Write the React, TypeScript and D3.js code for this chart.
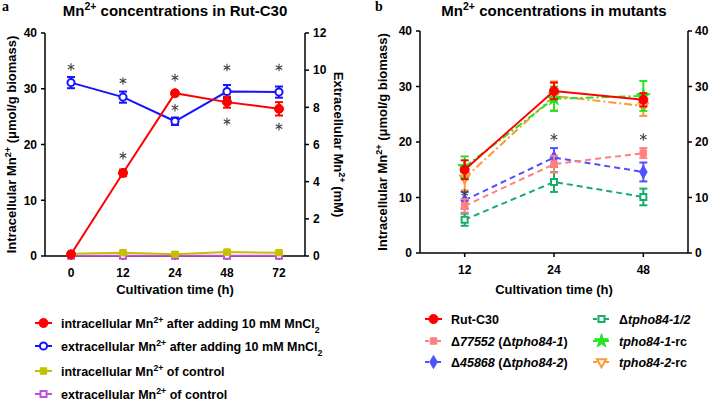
import React from "react";
import * as d3 from "d3";

// ---------- Panel a data ----------
const timesA = ["0", "12", "24", "48", "72"];
const intraAdded = [0.3, 14.9, 29.2, 27.6, 26.4];
const intraAddedErr = [0.3, 0.6, 0.4, 1.0, 1.2];
const extraAdded = [9.33, 8.55, 7.25, 8.85, 8.82]; // mM, right axis
const extraAddedErr = [0.3, 0.3, 0.2, 0.35, 0.3];
const intraCtrl = [0.4, 0.6, 0.3, 0.7, 0.6];
const intraCtrlErr = [0.1, 0.1, 0.1, 0.1, 0.1];
const extraCtrl = [0.02, 0.02, 0.02, 0.02, 0.02]; // mM
const extraCtrlErr = [0.03, 0.03, 0.03, 0.03, 0.03];
const starsATime = ["0", "12", "12", "24", "24", "48", "48", "72", "72"];
const starsAValue = [33.9, 31.4, 18.0, 32.0, 26.6, 33.8, 24.1, 33.8, 23.2];
const leftTicksA = [0, 10, 20, 30, 40];
const rightTicksA = [0, 2, 4, 6, 8, 10, 12];

// ---------- Panel b data ----------
const timesB = ["12", "24", "48"];
const rut = [15.0, 29.2, 27.6];
const rutErr = [1.7, 1.5, 1.2];
const d77552 = [8.5, 16.0, 18.0];
const d77552Err = [1.2, 1.5, 0.9];
const d45868 = [9.5, 17.2, 14.6];
const d45868Err = [1.5, 1.7, 1.7];
const dBoth = [6.0, 12.8, 10.1];
const dBothErr = [1.1, 1.8, 1.5];
const rc1 = [15.5, 27.8, 28.3];
const rc1Err = [1.9, 2.2, 2.7];
const rc2 = [13.5, 28.3, 26.5];
const rc2Err = [2.2, 2.6, 1.8];
const starsBTime = ["12", "24", "48"];
const starsBValue = [10.8, 20.9, 20.9];
const ticksB = [0, 10, 20, 30, 40];

const FONT = "'Liberation Sans', Arial, sans-serif";

type MarkerKind = "circle" | "circleOpen" | "square" | "squareOpen" | "diamond" | "star" | "triDownOpen";

function Marker({ kind, x, y, color }: { kind: MarkerKind; x: number; y: number; color: string }) {
  const map: Record<MarkerKind, [any, number, boolean]> = {
    circle: [d3.symbolCircle, 64, true],
    circleOpen: [d3.symbolCircle, 40, false],
    square: [d3.symbolSquare, 42, true],
    squareOpen: [d3.symbolSquare, 36, false],
    diamond: [d3.symbolDiamond, 50, true],
    star: [d3.symbolStar, 60, true],
    triDownOpen: [d3.symbolTriangle, 36, false],
  };
  const [type, size, filled] = map[kind];
  const p = d3.symbol().type(type).size(size)() as string;
  const rot = kind === "triDownOpen" ? " rotate(180)" : "";
  return (
    <path
      d={p}
      transform={`translate(${x},${y})${rot}`}
      fill={filled ? color : "white"}
      stroke={color}
      strokeWidth={filled ? 1 : 2}
    />
  );
}

function Star({ x, y }: { x: number; y: number }) {
  const p = d3.symbol().type(d3.symbolAsterisk).size(40)() as string;
  return <path d={p} transform={`translate(${x},${y})`} fill="none" stroke="#444" strokeWidth={1.1} />;
}

function Series({
  cats, vals, errs, x, y, color, dash, marker, width = 2,
}: {
  cats: string[]; vals: number[]; errs: number[]; x: d3.ScalePoint<string>; y: d3.ScaleLinear<number, number>;
  color: string; dash?: string; marker: MarkerKind; width?: number;
}) {
  const line = d3.line<number>().x((_, i) => x(cats[i])!).y((v) => y(v));
  return (
    <g>
      <path d={line(vals) as string} fill="none" stroke={color} strokeWidth={width} strokeDasharray={dash} />
      {vals.map((v, i) => {
        const cx = x(cats[i])!;
        const y1 = y(v + errs[i]);
        const y2 = y(v - errs[i]);
        return (
          <g key={i}>
            <line x1={cx} x2={cx} y1={y1} y2={y2} stroke={color} strokeWidth={2} />
            <line x1={cx - 4} x2={cx + 4} y1={y1} y2={y1} stroke={color} strokeWidth={2} />
            <line x1={cx - 4} x2={cx + 4} y1={y2} y2={y2} stroke={color} strokeWidth={2} />
            <Marker kind={marker} x={cx} y={y(v)} color={color} />
          </g>
        );
      })}
    </g>
  );
}

function Mn() {
  return (
    <>
      Mn<tspan baselineShift="super" fontSize="0.7em">2+</tspan>
    </>
  );
}

function Sub2() {
  return <tspan baselineShift="sub" fontSize="0.7em">2</tspan>;
}

function LegendItem({ x, y, color, marker, dash, children }: any) {
  return (
    <g>
      <line x1={x} x2={x + 17} y1={y} y2={y} stroke={color} strokeWidth={2} strokeDasharray={dash} />
      <Marker kind={marker} x={x + 8.5} y={y} color={color} />
      <text x={x + 26} y={y + 4.5} fontSize={12.5} fontWeight="bold" fontFamily={FONT}>
        {children}
      </text>
    </g>
  );
}

export default function App() {
  // Panel a scales
  const aL = 45, aR = 305, aT = 33, aB = 256;
  const xA = d3.scalePoint<string>().domain(timesA).range([aL, aR]).padding(0.5);
  const yA = d3.scaleLinear().domain([0, 40]).range([aB, aT]);
  const yA2 = d3.scaleLinear().domain([0, 12]).range([aB, aT]);

  // Panel b scales
  const bL = 420, bR = 688, bT = 31, bB = 253;
  const xB = d3.scalePoint<string>().domain(timesB).range([bL, bR]).padding(0.5);
  const yB = d3.scaleLinear().domain([0, 40]).range([bB, bT]);

  const tickFont = { fontSize: 12, fontWeight: "bold" as const, fontFamily: FONT };

  return (
    <svg width={709} height={400} style={{ position: "absolute", left: 0, top: 0, background: "white" }}>
      <rect width={709} height={400} fill="white" />
      {/* ===== Panel a ===== */}
      <text x={2} y={11} fontFamily="'Liberation Serif', serif" fontWeight="bold" fontSize={14}>a</text>
      <text x={(aL + aR) / 2} y={16} textAnchor="middle" fontFamily={FONT} fontWeight="bold" fontSize={15}>
        <Mn /> concentrations in Rut-C30
      </text>
      {/* axes */}
      <line x1={aL} x2={aL} y1={aT} y2={aB} stroke="black" strokeWidth={1.5} />
      <line x1={aR} x2={aR} y1={aT} y2={aB} stroke="black" strokeWidth={1.5} />
      <line x1={aL} x2={aR} y1={aB} y2={aB} stroke="black" strokeWidth={1.5} />
      {leftTicksA.map((t) => (
        <g key={t}>
          <line x1={aL - 4} x2={aL} y1={yA(t)} y2={yA(t)} stroke="black" strokeWidth={1.5} />
          <text x={aL - 8} y={yA(t) + 4.3} textAnchor="end" {...tickFont}>{t}</text>
        </g>
      ))}
      {rightTicksA.map((t) => (
        <g key={t}>
          <line x1={aR} x2={aR + 4} y1={yA2(t)} y2={yA2(t)} stroke="black" strokeWidth={1.5} />
          <text x={aR + 8} y={yA2(t) + 4.3} textAnchor="start" {...tickFont}>{t}</text>
        </g>
      ))}
      {timesA.map((t) => (
        <g key={t}>
          <line x1={xA(t)!} x2={xA(t)!} y1={aB} y2={aB + 4} stroke="black" strokeWidth={1.5} />
          <text x={xA(t)!} y={aB + 21} textAnchor="middle" {...tickFont}>{t}</text>
        </g>
      ))}
      <text x={(aL + aR) / 2} y={aB + 38} textAnchor="middle" fontFamily={FONT} fontWeight="bold" fontSize={13}>
        Cultivation time (h)
      </text>
      <text transform={`translate(16,${(aT + aB) / 2}) rotate(-90)`} textAnchor="middle" fontFamily={FONT} fontWeight="bold" fontSize={13}>
        Intracellular <Mn /> (μmol/g biomass)
      </text>
      <text transform={`translate(334,${(aT + aB) / 2}) rotate(90)`} textAnchor="middle" fontFamily={FONT} fontWeight="bold" fontSize={13}>
        Extracellular <Mn /> (mM)
      </text>
      {/* series */}
      <Series cats={timesA} vals={extraCtrl} errs={extraCtrlErr} x={xA} y={yA2} color="#c04fd8" marker="squareOpen" />
      <Series cats={timesA} vals={intraCtrl} errs={intraCtrlErr} x={xA} y={yA} color="#c2c000" marker="square" />
      <Series cats={timesA} vals={extraAdded} errs={extraAddedErr} x={xA} y={yA2} color="#1414ff" marker="circleOpen" />
      <Series cats={timesA} vals={intraAdded} errs={intraAddedErr} x={xA} y={yA} color="#ff0000" marker="circle" />
      {starsAValue.map((v, i) => (
        <Star key={i} x={xA(starsATime[i])!} y={yA(v)} />
      ))}
      {/* legend a */}
      <LegendItem x={35} y={323} color="#ff0000" marker="circle">
        intracellular <Mn /> after adding 10 mM MnCl<Sub2 />
      </LegendItem>
      <LegendItem x={35} y={346} color="#1414ff" marker="circleOpen">
        extracellular <Mn /> after adding 10 mM MnCl<Sub2 />
      </LegendItem>
      <LegendItem x={35} y={371} color="#c2c000" marker="square">
        intracellular <Mn /> of control
      </LegendItem>
      <LegendItem x={35} y={394} color="#c04fd8" marker="squareOpen">
        extracellular <Mn /> of control
      </LegendItem>

      {/* ===== Panel b ===== */}
      <text x={375} y={11} fontFamily="'Liberation Serif', serif" fontWeight="bold" fontSize={14}>b</text>
      <text x={(bL + bR) / 2} y={16} textAnchor="middle" fontFamily={FONT} fontWeight="bold" fontSize={15}>
        <Mn /> concentrations in mutants
      </text>
      <line x1={bL} x2={bL} y1={bT} y2={bB} stroke="black" strokeWidth={1.5} />
      <line x1={bR} x2={bR} y1={bT} y2={bB} stroke="black" strokeWidth={1.5} />
      <line x1={bL} x2={bR} y1={bB} y2={bB} stroke="black" strokeWidth={1.5} />
      {ticksB.map((t) => (
        <g key={t}>
          <line x1={bL - 4} x2={bL} y1={yB(t)} y2={yB(t)} stroke="black" strokeWidth={1.5} />
          <text x={bL - 8} y={yB(t) + 4.3} textAnchor="end" {...tickFont}>{t}</text>
          <line x1={bR} x2={bR + 4} y1={yB(t)} y2={yB(t)} stroke="black" strokeWidth={1.5} />
          <text x={bR + 7} y={yB(t) + 4.3} textAnchor="start" {...tickFont}>{t}</text>
        </g>
      ))}
      {timesB.map((t) => (
        <g key={t}>
          <line x1={xB(t)!} x2={xB(t)!} y1={bB} y2={bB + 4} stroke="black" strokeWidth={1.5} />
          <text x={xB(t)!} y={bB + 21} textAnchor="middle" {...tickFont}>{t}</text>
        </g>
      ))}
      <text x={(bL + bR) / 2} y={bB + 41} textAnchor="middle" fontFamily={FONT} fontWeight="bold" fontSize={13}>
        Cultivation time (h)
      </text>
      <text transform={`translate(387,${(bT + bB) / 2}) rotate(-90)`} textAnchor="middle" fontFamily={FONT} fontWeight="bold" fontSize={13}>
        Intracellular <Mn /> (μmol/g biomass)
      </text>
      <Series cats={timesB} vals={dBoth} errs={dBothErr} x={xB} y={yB} color="#17ad6a" marker="squareOpen" dash="6,4" />
      <Series cats={timesB} vals={d45868} errs={d45868Err} x={xB} y={yB} color="#5050ff" marker="diamond" dash="6,4" />
      <Series cats={timesB} vals={d77552} errs={d77552Err} x={xB} y={yB} color="#ff8080" marker="square" dash="6,4" />
      <Series cats={timesB} vals={rc2} errs={rc2Err} x={xB} y={yB} color="#ff9933" marker="triDownOpen" dash="8,3,2,3" />
      <Series cats={timesB} vals={rc1} errs={rc1Err} x={xB} y={yB} color="#22e622" marker="star" dash="8,3,2,3" />
      <Series cats={timesB} vals={rut} errs={rutErr} x={xB} y={yB} color="#ff0000" marker="circle" />
      {starsBValue.map((v, i) => (
        <Star key={i} x={xB(starsBTime[i])!} y={yB(v)} />
      ))}
      {/* legend b */}
      <LegendItem x={425} y={319} color="#ff0000" marker="circle">Rut-C30</LegendItem>
      <LegendItem x={425} y={341} color="#ff8080" marker="square" dash="4,2">
        Δ<tspan fontStyle="italic">77552</tspan> (Δ<tspan fontStyle="italic">tpho84-1</tspan>)
      </LegendItem>
      <LegendItem x={425} y={362} color="#5050ff" marker="diamond" dash="4,2">
        Δ<tspan fontStyle="italic">45868</tspan> (Δ<tspan fontStyle="italic">tpho84-2</tspan>)
      </LegendItem>
      <LegendItem x={593} y={319} color="#17ad6a" marker="squareOpen" dash="4,2">
        Δ<tspan fontStyle="italic">tpho84-1/2</tspan>
      </LegendItem>
      <LegendItem x={593} y={341} color="#22e622" marker="star" dash="4,2">
        <tspan fontStyle="italic">tpho84-1</tspan>-rc
      </LegendItem>
      <LegendItem x={593} y={362} color="#ff9933" marker="triDownOpen" dash="4,2">
        <tspan fontStyle="italic">tpho84-2</tspan>-rc
      </LegendItem>
    </svg>
  );
}
